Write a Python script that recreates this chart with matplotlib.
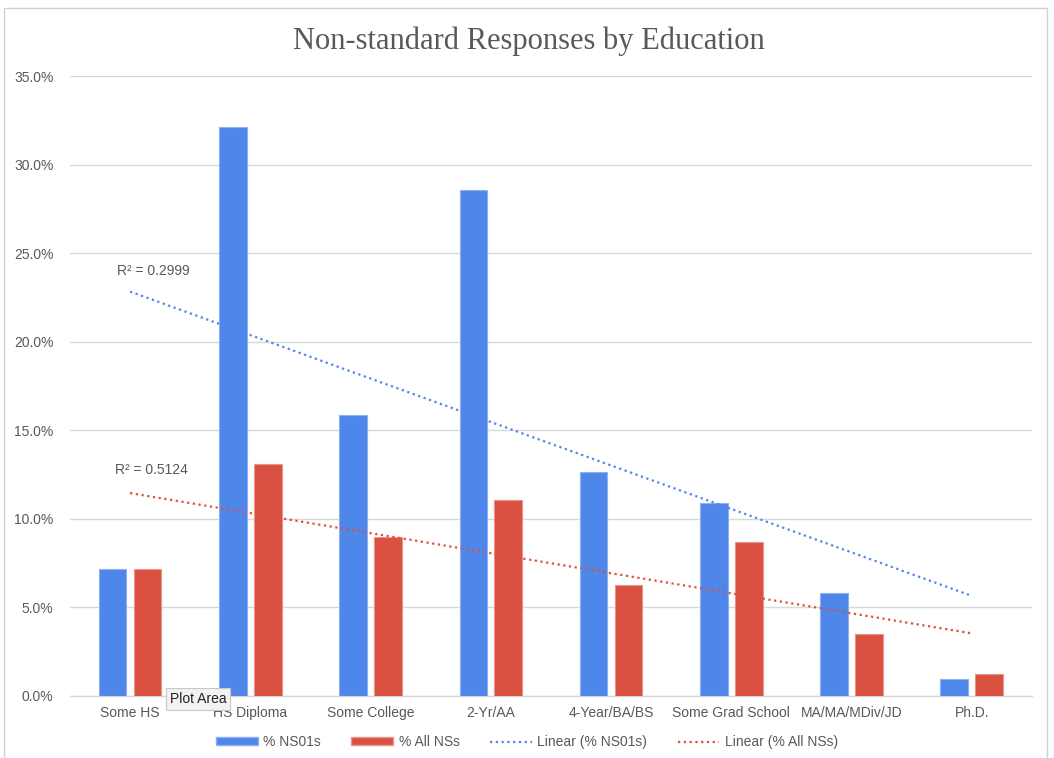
import matplotlib
matplotlib.use('Agg')
from matplotlib import pyplot as plt
from matplotlib.patches import Rectangle, Patch
from matplotlib.lines import Line2D
from matplotlib.ticker import FuncFormatter
import numpy as np

plt.rcParams['font.family'] = ['Liberation Sans', 'DejaVu Sans']

# data
categories = ['Some HS', 'HS Diploma', 'Some College', '2-Yr/AA', '4-Year/BA/BS',
              'Some Grad School', 'MA/MA/MDiv/JD', 'Ph.D.']
ns01 = [0.0716, 0.3211, 0.1589, 0.2854, 0.1262, 0.1088, 0.0579, 0.0094]
all_ns = [0.0717, 0.1307, 0.0897, 0.1109, 0.0624, 0.0867, 0.0351, 0.0124]
r2_labels = ['R² = 0.2999', 'R² = 0.5124']

blue = '#4F86EA'
red = '#DA5141'
grey_txt = '#595959'

fig = plt.figure(figsize=(10.54, 7.58), dpi=100)
ax = fig.add_axes([0.0664, 0.0818, 0.9126, 0.8179])

x = np.arange(len(categories))
w = 0.23
ax.bar(x - 0.145, ns01, width=w, color=blue, edgecolor='#8DB0F2', linewidth=0.8, zorder=3)
ax.bar(x + 0.145, all_ns, width=w, color=red, edgecolor='#E99489', linewidth=0.8, zorder=3)

# linear trendlines (fitted on 1..n like Excel)
for vals, col in [(ns01, blue), (all_ns, red)]:
    k, b = np.polyfit(x, vals, 1)
    ax.plot(x, k * x + b, linestyle=(0, (1, 1.6)), color=col, linewidth=1.6, zorder=4)

ax.text(-0.11, 0.240, r2_labels[0], fontsize=10, color=grey_txt, ha='left', va='center')
ax.text(-0.125, 0.1275, r2_labels[1], fontsize=10, color=grey_txt, ha='left', va='center')

ax.set_xlim(-0.5, len(categories) - 0.5)
ax.set_ylim(0, 0.35)
ax.set_yticks(np.arange(0, 0.351, 0.05))
ax.yaxis.set_major_formatter(FuncFormatter(lambda v, p: '{:.1f}%'.format(v * 100)))
ax.set_xticks(x)
ax.set_xticklabels(categories)
ax.tick_params(axis='both', length=0, labelsize=10, colors=grey_txt)
ax.tick_params(axis='y', pad=12)
ax.tick_params(axis='x', pad=7)
ax.grid(axis='y', color='#D9D9D9', linewidth=1, zorder=0)
for s in ['top', 'right', 'left']:
    ax.spines[s].set_visible(False)
ax.spines['bottom'].set_color('#D9D9D9')
ax.spines['bottom'].set_linewidth(1)

fig.text(0.502, 0.946, 'Non-standard Responses by Education', ha='center', va='center',
         fontsize=22, color=grey_txt, family=['Liberation Serif', 'DejaVu Serif'])

# chart frame
fig.patches.append(Rectangle((4 / 1054, -0.01), 1043 / 1054, 1 - 8 / 758 + 0.01,
                             transform=fig.transFigure, fill=False, edgecolor='#D0D0D0',
                             linewidth=1))

handles = [Patch(facecolor=blue, edgecolor='#8DB0F2'),
           Patch(facecolor=red, edgecolor='#E99489'),
           Line2D([], [], color=blue, linestyle=(0, (1, 1.6)), linewidth=1.6),
           Line2D([], [], color=red, linestyle=(0, (1, 1.6)), linewidth=1.6)]
labels = ['% NS01s', '% All NSs', 'Linear (% NS01s)', 'Linear (% All NSs)']
leg = fig.legend(handles, labels, loc='center', bbox_to_anchor=(0.5, 0.021), ncol=4,
                 frameon=False, fontsize=10, handlelength=3, handleheight=0.5,
                 columnspacing=2.2, handletextpad=0.4)
for t in leg.get_texts():
    t.set_color(grey_txt)

# tooltip left in the screenshot
fig.text(198 / 1054, 1 - 699 / 758, 'Plot Area', ha='center', va='center', fontsize=10,
         color='#222222',
         bbox=dict(boxstyle='square,pad=0.3', facecolor='#F2F2F2', edgecolor='#C8C8C8',
                   linewidth=0.8))

plt.savefig('out.png', dpi=100)
